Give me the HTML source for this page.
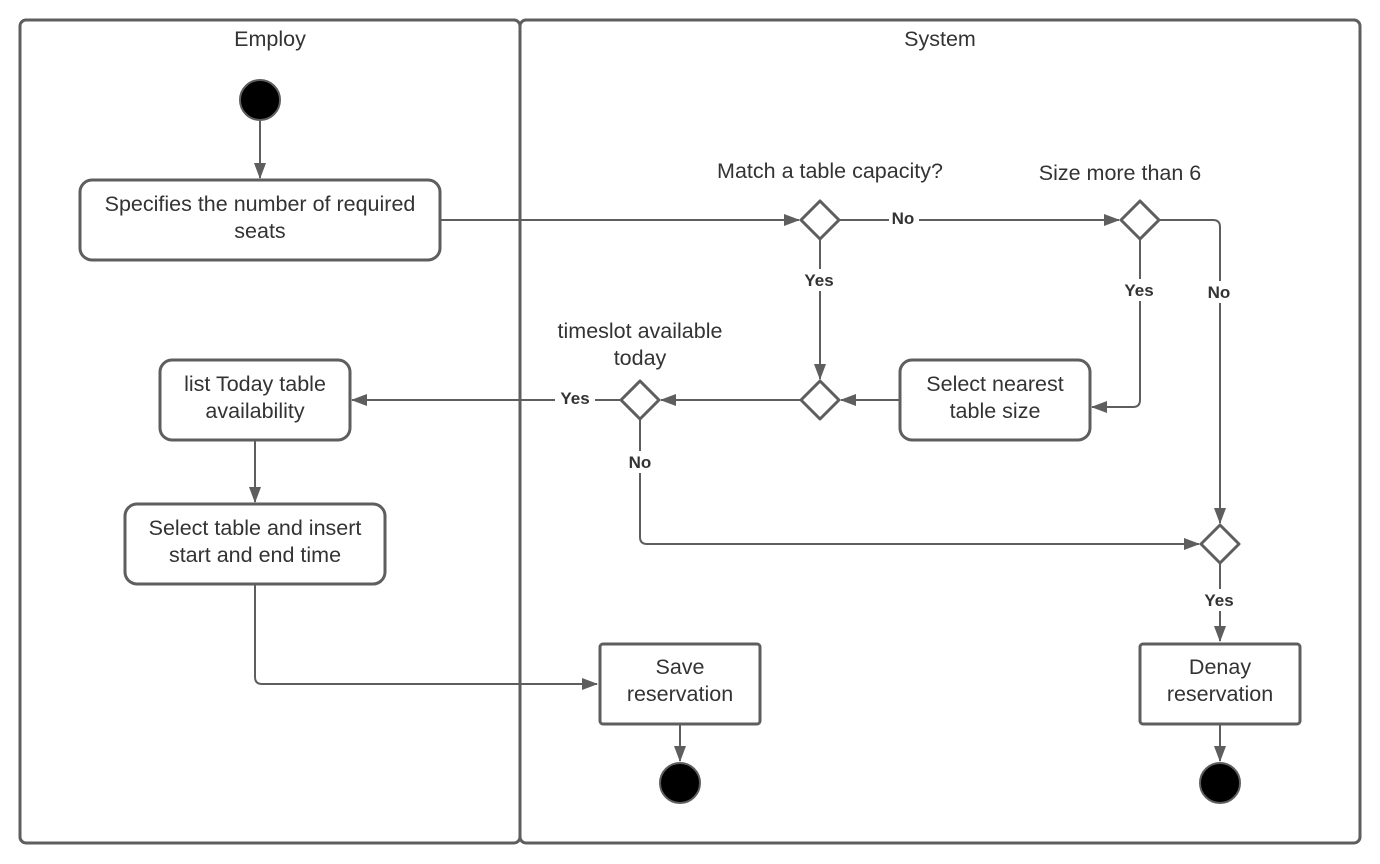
<!DOCTYPE html>
<html><head><meta charset="utf-8"><style>
html,body{margin:0;padding:0;background:#fff;}
svg{display:block;}
text{font-family:"Liberation Sans",sans-serif;fill:#333;}
.t{font-size:21.5px;text-anchor:middle;}
.l{font-size:17px;font-weight:bold;text-anchor:middle;}
.b{fill:#fff;stroke:#5e5e5e;stroke-width:3;}
.ln{fill:none;stroke:#5e5e5e;stroke-width:2;}
.d{fill:#fff;stroke:#5e5e5e;stroke-width:3;}
</style></head><body>
<svg width="1380" height="864" viewBox="0 0 1380 864" xmlns="http://www.w3.org/2000/svg">
<defs><marker id="a" markerWidth="16" markerHeight="12" refX="15" refY="6" orient="auto" markerUnits="userSpaceOnUse"><path d="M0,0 L16,6 L0,12 z" fill="#5e5e5e"/></marker></defs>
<rect x="20" y="20" width="500" height="823" rx="6" class="b"/>
<rect x="520" y="20" width="840" height="823" rx="6" class="b"/>
<text class="t" x="270" y="46">Employ</text>
<text class="t" x="940" y="46">System</text>

<circle cx="260" cy="100" r="20" fill="#000" stroke="#5e5e5e" stroke-width="2"/>
<path class="ln" d="M260,121 V178" marker-end="url(#a)"/>
<rect x="80" y="180" width="360" height="80" rx="12" class="b"/>
<text class="t" x="260" y="211">Specifies the number of required</text>
<text class="t" x="260" y="238">seats</text>

<path class="ln" d="M440,220 H799" marker-end="url(#a)"/>
<text class="t" x="830" y="178">Match a table capacity?</text>
<path class="ln" d="M839,220 H1119" marker-end="url(#a)"/>
<rect x="889" y="209" width="30" height="18" fill="#fff"/>
<text class="l" x="903" y="224">No</text>
<text class="t" x="1120" y="180">Size more than 6</text>

<path class="ln" d="M820,239 V379" marker-end="url(#a)"/>
<rect x="799" y="269" width="42" height="22" fill="#fff"/>
<text class="l" x="819" y="286">Yes</text>

<path class="ln" d="M1140,239 V400 Q1140,407 1133,407 H1092" marker-end="url(#a)"/>
<rect x="1119" y="279" width="42" height="22" fill="#fff"/>
<text class="l" x="1139" y="296">Yes</text>

<path class="ln" d="M1159,220 H1213 Q1220,220 1220,227 V523" marker-end="url(#a)"/>
<rect x="1204" y="281" width="32" height="22" fill="#fff"/>
<text class="l" x="1219" y="298">No</text>

<rect x="900" y="360" width="190" height="80" rx="12" class="b"/>
<text class="t" x="995" y="391">Select nearest</text>
<text class="t" x="995" y="418">table size</text>
<path class="ln" d="M900,400 H841" marker-end="url(#a)"/>
<path class="ln" d="M801,400 H661" marker-end="url(#a)"/>

<text class="t" x="640" y="338">timeslot available</text>
<text class="t" x="640" y="365">today</text>
<path class="ln" d="M621,400 H352" marker-end="url(#a)"/>
<rect x="555" y="388" width="40" height="20" fill="#fff"/>
<text class="l" x="575" y="404">Yes</text>

<rect x="160" y="360" width="190" height="80" rx="12" class="b"/>
<text class="t" x="255" y="391">list Today table</text>
<text class="t" x="255" y="418">availability</text>
<path class="ln" d="M255,441 V502" marker-end="url(#a)"/>
<rect x="125" y="504" width="260" height="80" rx="12" class="b"/>
<text class="t" x="255" y="535">Select table and insert</text>
<text class="t" x="255" y="562">start and end time</text>
<path class="ln" d="M255,585 V677 Q255,684 262,684 H597" marker-end="url(#a)"/>

<path class="ln" d="M640,419 V537 Q640,544 647,544 H1199" marker-end="url(#a)"/>
<rect x="625" y="451" width="32" height="22" fill="#fff"/>
<text class="l" x="640" y="468">No</text>

<path class="ln" d="M1220,563 V641" marker-end="url(#a)"/>
<rect x="1199" y="589" width="42" height="22" fill="#fff"/>
<text class="l" x="1219" y="606">Yes</text>

<rect x="600" y="644" width="160" height="80" rx="3" class="b"/>
<text class="t" x="680" y="674">Save</text>
<text class="t" x="680" y="701">reservation</text>
<path class="ln" d="M680,725 V761" marker-end="url(#a)"/>
<circle cx="680" cy="783" r="20" fill="#000" stroke="#5e5e5e" stroke-width="2"/>

<rect x="1140" y="644" width="160" height="80" rx="3" class="b"/>
<text class="t" x="1220" y="674">Denay</text>
<text class="t" x="1220" y="701">reservation</text>
<path class="ln" d="M1220,725 V761" marker-end="url(#a)"/>
<circle cx="1220" cy="783" r="20" fill="#000" stroke="#5e5e5e" stroke-width="2"/>

<path class="d" d="M820,201 L839,220 L820,239 L801,220 Z" stroke-linejoin="round"/>
<path class="d" d="M1140,201 L1159,220 L1140,239 L1121,220 Z" stroke-linejoin="round"/>
<path class="d" d="M820,381 L839,400 L820,419 L801,400 Z" stroke-linejoin="round"/>
<path class="d" d="M640,381 L659,400 L640,419 L621,400 Z" stroke-linejoin="round"/>
<path class="d" d="M1220,525 L1239,544 L1220,563 L1201,544 Z" stroke-linejoin="round"/>
</svg>
</body></html>
